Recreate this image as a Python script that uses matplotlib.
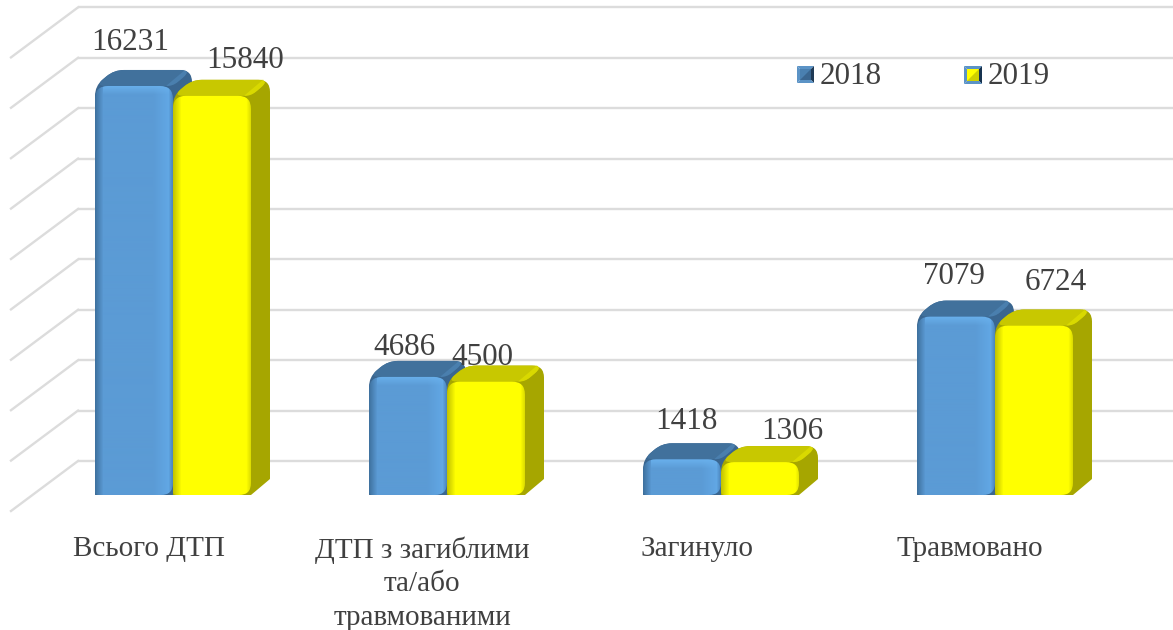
"""Two-year road accident bars, drawn with a fake 3D look."""
import matplotlib
matplotlib.use("Agg")
import matplotlib.pyplot as plt
import numpy as np
from matplotlib.patches import PathPatch, Polygon
from matplotlib.path import Path

categories = ["Всього ДТП", "ДТП з загиблими\nта/або\nтравмованими", "Загинуло", "Травмовано"]
years = ["2018", "2019"]
values_2018 = [16231, 4686, 1418, 7079]
values_2019 = [15840, 4500, 1306, 6724]
grid_levels = [0, 2000, 4000, 6000, 8000, 10000, 12000, 14000, 16000, 18000]

# label nudges in pixels, hand placed in the source chart
offsets_2018 = [(-4, 43), (-4, 29), (4, 38), (-2, 40)]
offsets_2019 = [(33, 35), (-4, 24), (32, 31), (22, 43)]

W, H = 1173, 630
PX_CAT = 274.0    # pixels per category
PX_VAL = 0.0252   # pixels per unit of value
X0, Y0 = 95.0, 495.0  # pixel position of category 0, value 0
BAR_W = 78 / PX_CAT
DX, DY = 19 / PX_CAT, 16 / PX_VAL
BACK_DX, BACK_DY = -17 / PX_CAT, 34 / PX_VAL

TEXT = "#404040"
FONT = "Liberation Serif"

BLUE = dict(mid="#5b9bd5", left="#3f72a0", right="#62a8e5", edge="#4d88bf",
            bevel="#69b0ec", top="#41719c", band="#4a7fae", side="#3a6690")
YELLOW = dict(mid="#ffff00", left="#c4c400", right="#ffff00", edge="#dede00",
              bevel="#ffff00", top="#c8c800", band="#d9d900", side="#a6a600")


def rgb(c):
    return np.array(matplotlib.colors.to_rgb(c))


def round_path(points, radii):
    """Closed path through points, corners cut with quadratic curves (radii in px)."""
    pts = np.array(points, dtype=float) * [PX_CAT, PX_VAL]
    n = len(pts)
    verts, codes = [], []
    for i in range(n):
        p, a, b = pts[i], pts[i - 1], pts[(i + 1) % n]
        r = radii[i]
        da = (a - p) / np.hypot(*(a - p))
        db = (b - p) / np.hypot(*(b - p))
        verts.append(p + da * r)
        codes.append(Path.MOVETO if i == 0 else Path.LINETO)
        verts += [p, p + db * r]
        codes += [Path.CURVE3, Path.CURVE3]
    verts.append(verts[0])
    codes.append(Path.CLOSEPOLY)
    return Path(np.array(verts) / [PX_CAT, PX_VAL], codes)


def front_shade(pal, w_px, h_px):
    """RGB array for the front face: dark left edge, light right strip, top bevel."""
    w, h = int(w_px), max(int(h_px), 2)
    img = np.tile(rgb(pal["mid"]), (h, w, 1))
    for k in range(8):
        img[:, k] = rgb(pal["left"]) + (rgb(pal["mid"]) - rgb(pal["left"])) * k / 8
    strip = min(20, w // 3)
    for k in range(strip - 4):
        img[:, w - strip + k] = rgb(pal["mid"]) + (rgb(pal["right"]) - rgb(pal["mid"])) * k / (strip - 4)
    for k in range(4):
        img[:, w - 4 + k] = rgb(pal["right"]) + (rgb(pal["edge"]) - rgb(pal["right"])) * (k + 1) / 4
    bevel = min(9, h // 3)
    for k in range(bevel):
        t = 1 - k / bevel
        img[k, 8:w - 4] = img[k, 8:w - 4] * (1 - t) + rgb(pal["bevel"]) * t
    return img


def draw_bar(ax, x, val, pal, z):
    top = val
    w = BAR_W
    # back silhouette gives the side face
    sil = [(x, top), (x + DX, top + DY), (x + w + DX, top + DY), (x + w + DX, DY), (x + w, 0)]
    ax.add_patch(PathPatch(round_path(sil + [(x, 0)], [10, 10, 12, 0.5, 0.5, 0.5]),
                           fc=pal["side"], ec="none", zorder=z))
    # top face with the lighter strip along its right end
    face = [(x, top), (x + DX, top + DY), (x + w + DX, top + DY), (x + w, top)]
    ax.add_patch(PathPatch(round_path(face, [10, 10, 12, 8]), fc=pal["top"], ec="none", zorder=z + 0.1))
    inset = 7 / PX_CAT
    strip = [(x + w - inset, top), (x + w + DX - inset, top + DY),
             (x + w + DX, top + DY), (x + w, top)]
    ax.add_patch(PathPatch(round_path(strip, [1, 1, 12, 6]), fc=pal["band"], ec="none", zorder=z + 0.2))
    # front face, gradient image clipped to a rounded box
    box = [(x, 0), (x, top), (x + w, top), (x + w, 0)]
    clip = PathPatch(round_path(box, [3, 13, 13, 12]), fc="none", ec="none", transform=ax.transData)
    ax.add_patch(clip)
    im = ax.imshow(front_shade(pal, w * PX_CAT, top * PX_VAL), extent=(x, x + w, 0, top),
                   aspect="auto", interpolation="bilinear", zorder=z + 0.3)
    im.set_clip_path(clip)


fig = plt.figure(figsize=(W / 100, H / 100), dpi=100)
ax = fig.add_axes([0, 0, 1, 1])
ax.set_xlim(-X0 / PX_CAT, (W - X0) / PX_CAT)
ax.set_ylim(-(H - Y0) / PX_VAL, Y0 / PX_VAL)
ax.axis("off")

# back wall lines and the floor/side diagonals
for lvl in grid_levels:
    ax.plot([BACK_DX, (W - X0) / PX_CAT], [lvl + BACK_DY] * 2, color="#dcdcdc", lw=1.7, zorder=1,
            solid_capstyle="butt")
    ax.plot([BACK_DX, -84 / PX_CAT], [lvl + BACK_DY, lvl + BACK_DY - 50 / PX_VAL],
            color="#dcdcdc", lw=1.7, zorder=1)

for i in range(len(categories)):
    draw_bar(ax, i, values_2018[i], BLUE, 2 + i)
    draw_bar(ax, i + BAR_W, values_2019[i], YELLOW, 2.5 + i)

    for x, val, off in [(i, values_2018[i], offsets_2018[i]),
                        (i + BAR_W, values_2019[i], offsets_2019[i])]:
        ax.annotate(str(val), (x + BAR_W / 2, val), xytext=off, textcoords="offset pixels",
                    ha="center", va="center", fontsize=22.4, family=FONT, color=TEXT, zorder=10)

    ax.text(i + 54 / PX_CAT - (i % 2) * 1 / PX_CAT, -(536.5 - Y0) / PX_VAL, categories[i], ha="center", va="top",
            fontsize=21, family=FONT, color=TEXT, linespacing=1.37, zorder=10)


def to_in(pts):
    return [(p[0] / 100, p[1] / 100) for p in pts]


def draw_key(x, y, s, inner, shade, dark, light):
    """Small bevelled legend square, pixel coordinates from the top left."""
    tr = fig.dpi_scale_trans
    x0, x1, y0, y1 = x, x + s, H - y, H - y - s
    ix0, ix1, iy0, iy1 = x0 + 3, x1 - 3, y0 - 3, y1 + 3
    outer = [
        ([(x0, y0), (x1, y0), (ix1, iy0), (ix0, iy0)], light),
        ([(x1, y0), (x1, y1), (ix1, iy1), (ix1, iy0)], dark),
        ([(x1, y1), (x0, y1), (ix0, iy1), (ix1, iy1)], light),
        ([(x0, y1), (x0, y0), (ix0, iy0), (ix0, iy1)], light),
    ]
    for pts, col in outer:
        fig.add_artist(Polygon(to_in(pts), fc=col, ec="none", transform=tr))
    fig.add_artist(Polygon(to_in([(ix0, iy0), (ix1, iy0), (ix1, iy1), (ix0, iy1)]), fc=inner, ec="none", transform=tr))
    fig.add_artist(Polygon(to_in([(ix0, iy1), (ix1, iy0), (ix1, iy1)]), fc=shade, ec="none", transform=tr))


draw_key(797, 66, 17, "#4a80b0", "#3a6690", "#1f3a55", "#5b93c6")
draw_key(964, 66, 18, "#ffff00", "#d0d000", "#16324f", "#5b93c6")
for label, px in zip(years, (820, 988)):
    fig.text(px / W, 1 - 77 / H, label, ha="left", va="center", fontsize=22.4, family=FONT, color=TEXT)

fig.savefig("out.png", dpi=100)
plt.close(fig)
